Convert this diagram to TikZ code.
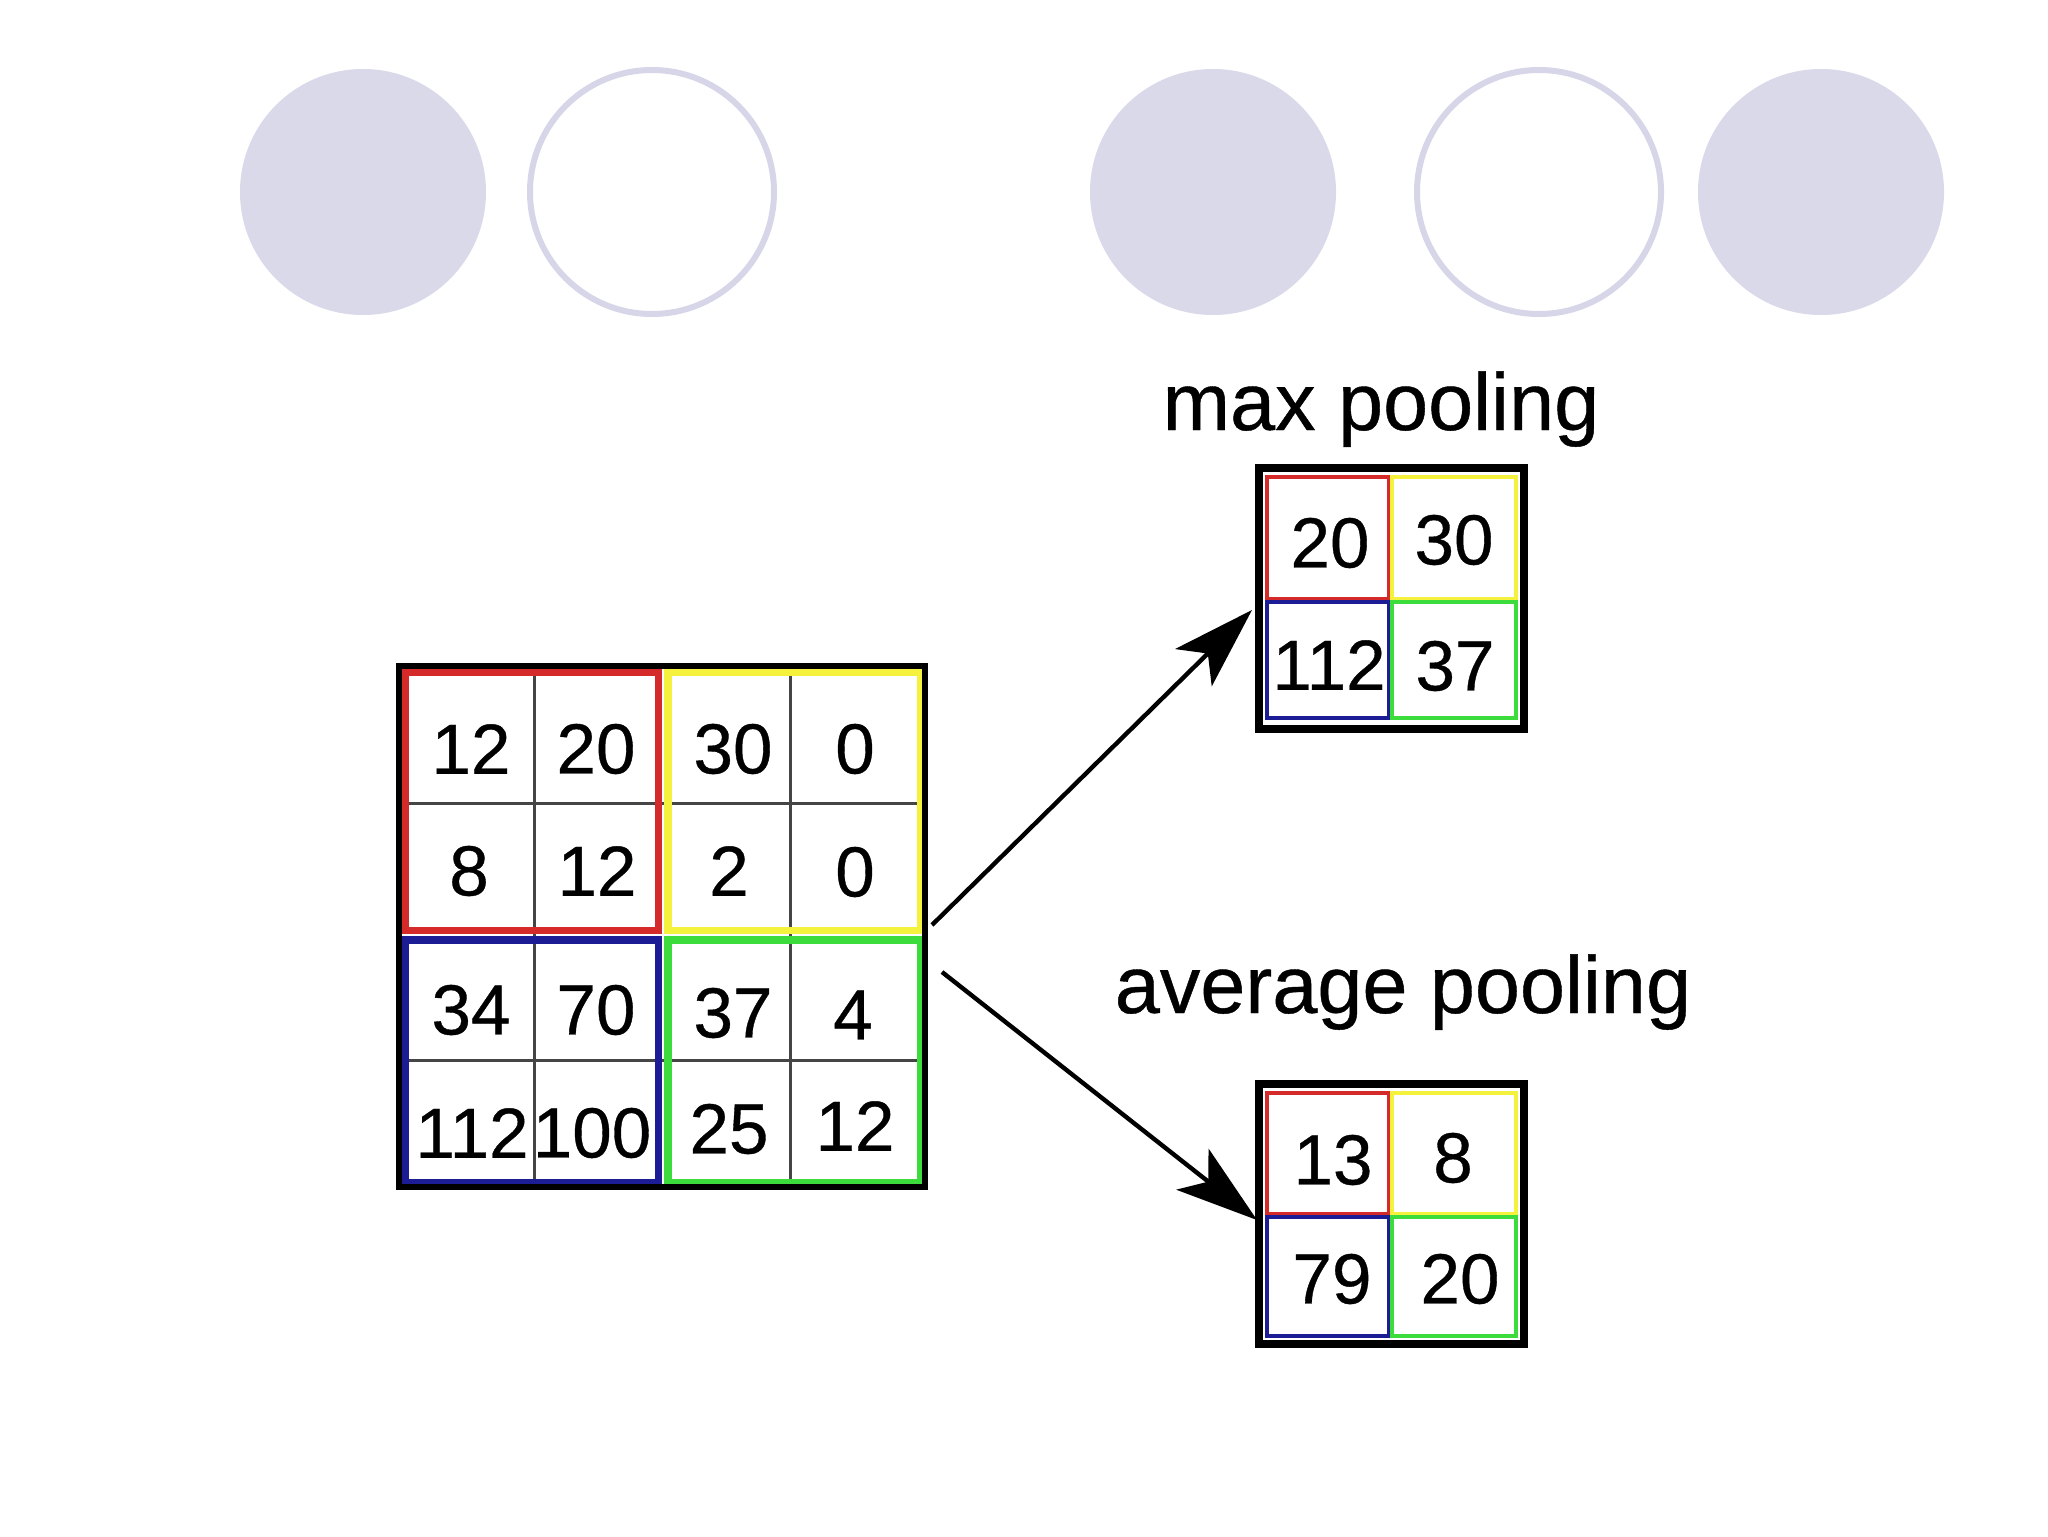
\documentclass[tikz,border=0pt]{standalone}
\usepackage{fontspec}
\setmainfont{Liberation Sans}
\newfontfamily\heavy{Liberation Sans}[FakeBold=0.5]
\usetikzlibrary{arrows.meta}
\definecolor{lav}{HTML}{D9D9EA}
\definecolor{lavline}{HTML}{D6D6E8}
\definecolor{cred}{HTML}{D42A2A}
\definecolor{cyel}{HTML}{F4F23C}
\definecolor{cblu}{HTML}{1C1C94}
\definecolor{cgrn}{HTML}{3CDC3C}
\definecolor{cgray}{HTML}{454545}
\begin{document}
\begin{tikzpicture}[x=0.5pt,y=-0.5pt,
  dotfill/.style={circle, fill=lav, minimum size=123pt, inner sep=0pt, outer sep=0pt},
  dotring/.style={circle, draw=lavline, line width=3pt, minimum size=122pt, inner sep=0pt, outer sep=0pt},
  num/.style={font=\heavy\fontsize{35.5}{40}\selectfont, inner sep=0pt},
  lbl/.style={font=\heavy\fontsize{40.5}{46}\selectfont, inner sep=0pt, anchor=base},
  frame/.style={draw=black, rectangle, inner sep=0pt, outer sep=0pt},
  bigblk/.style={line width=3.8pt},
  smallblk/.style={line width=2.4pt},
  thin/.style={draw=cgray, line width=1.5pt},
  conn/.style={line width=2.2pt, -{Stealth[length=41pt,width=26pt,inset=10pt]}}
]
\useasboundingbox (0,0) rectangle (2048,1536);
\fill[white] (0,0) rectangle (2048,1536);

% decorative circles
\node[dotfill] (c1) at (363,192) {};
\node[dotring] (c2) at (652,192) {};
\node[dotfill] (c3) at (1213,192) {};
\node[dotring] (c4) at (1539,192) {};
\node[dotfill] (c5) at (1821,192) {};

% big grid: thin inner lines
\draw[thin] (405,803) -- (920,803);
\draw[thin] (405,1060) -- (920,1060);
\draw[thin] (534,672) -- (534,1182);
\draw[thin] (790,672) -- (790,1182);
% coloured 2x2 blocks
\draw[bigblk, cred] (405,672) rectangle (658.5,930.5);
\draw[bigblk, cyel] (668,672) rectangle (920.5,930.5);
\draw[bigblk, cblu] (405,940) rectangle (658.5,1182.5);
\draw[bigblk, cgrn] (668,940) rectangle (920.5,1182.5);
% outer frame
\node[frame, line width=3pt, minimum width=263pt, minimum height=260.5pt] (big) at (661.5,926) {};

% big grid numbers
\node[num] (a11) at (471,749) {12};
\node[num] (a12) at (596,749) {20};
\node[num] (a13) at (733,749) {30};
\node[num] (a14) at (855,749) {0};
\node[num] (a21) at (469,871) {8};
\node[num] (a22) at (597,871) {12};
\node[num] (a23) at (729,871) {2};
\node[num] (a24) at (855,872) {0};
\node[num] (a31) at (471,1010) {34};
\node[num] (a32) at (596,1010) {70};
\node[num] (a33) at (733,1013) {37};
\node[num] (a34) at (853,1015) {4};
\node[num] (a41) at (472,1133) {112};
\node[num] (a42) at (592,1133) {100};
\node[num] (a43) at (729,1129) {25};
\node[num] (a44) at (855,1126) {12};

% max pooling grid
\draw[smallblk, cred] (1267,477) rectangle (1389,599);
\draw[smallblk, cyel] (1392,477) rectangle (1516,599);
\draw[smallblk, cblu] (1267,602) rectangle (1389,718);
\draw[smallblk, cgrn] (1392,602) rectangle (1516,718);
\node[frame, line width=4pt, minimum width=132.5pt, minimum height=130.5pt] (maxg) at (1391.5,598.5) {};
\node[num] (m11) at (1330,543) {20};
\node[num] (m12) at (1454,540) {30};
\node[num] (m21) at (1329,665) {112};
\node[num] (m22) at (1455,666) {37};
\node[lbl] (maxl) at (1381,430) {max pooling};

% average pooling grid
\draw[smallblk, cred] (1267,1093) rectangle (1389,1214);
\draw[smallblk, cyel] (1392,1093) rectangle (1516,1214);
\draw[smallblk, cblu] (1267,1217) rectangle (1389,1336);
\draw[smallblk, cgrn] (1392,1217) rectangle (1516,1336);
\node[frame, line width=4pt, minimum width=132.5pt, minimum height=130pt] (avgg) at (1391.5,1214) {};
\node[num] (v11) at (1333,1160) {13};
\node[num] (v12) at (1453,1158) {8};
\node[num] (v21) at (1332,1279) {79};
\node[num] (v22) at (1460,1279) {20};
\node[lbl] (avgl) at (1403,1013) {average pooling};

% connectors
\draw[conn] ([xshift=3.75pt,yshift=0.5pt]big.east) -- ([xshift=-3.5pt,yshift=-5.75pt]maxg.west);
\draw[conn] ([xshift=8.75pt,yshift=-23pt]big.east) -- ([xshift=-1pt,yshift=-3pt]avgg.west);
\end{tikzpicture}
\end{document}
